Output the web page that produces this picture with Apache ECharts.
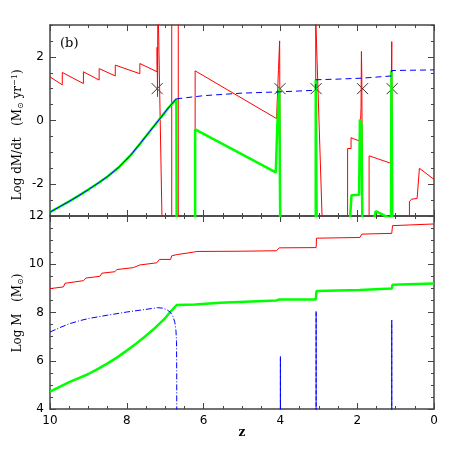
<!DOCTYPE html>
<html>
<head>
<meta charset="utf-8">
<script src="https://cdn.jsdelivr.net/npm/echarts@6/dist/echarts.min.js"></script>
<style>
  html, body { margin: 0; padding: 0; background: #fff; }
  #chart { width: 458px; height: 458px; }
</style>
</head>
<body>
<div id="chart"></div>
<script>
// ---- data: [z, value] ----
// top panel, log dM/dt
var redRate = [
    [10, 1.37], [9.68, 1.12], [9.68, 1.51], [9.13, 1.16], [9.13, 1.53],
    [8.72, 1.27], [8.72, 1.63], [8.30, 1.40], [8.30, 1.74], [7.66, 1.47],
    [7.66, 1.79], [7.21, 1.53], [7.21, 2.30], [7.20, 0.75], [7.19, 4],
    [7.07, -4], [6.83, -4], [6.83, 4], [6.66, 4], [6.66, -4],
    [6.22, -4], [6.22, 1.56], [4.10, 0.06], [4.05, 1.6], [4.02, 2.5],
    [4.00, -4], [3.08, -4], [3.08, 3.2], [2.91, -3.2], [2.25, -4],
    [2.25, -0.88], [2.16, -0.88], [2.16, -0.54], [1.93, -0.65], [1.90, 0.4],
    [1.89, 2.17], [1.88, 1.4], [1.86, -4], [1.69, -4], [1.69, -1.11],
    [1.65, -1.06], [1.13, -1.34], [1.10, 2.48], [1.08, -4], [0.64, -4],
    [0.64, -2.54], [0.58, -2.47], [0.44, -2.45], [0.38, -1.5], [0, -1.85]
];
var greenRate = [
    [10, -2.88], [9.75, -2.71], [9.5, -2.54], [9.25, -2.36], [9.0, -2.17],
    [8.75, -1.97], [8.5, -1.76], [8.2, -1.46], [7.9, -1.09], [7.65, -0.72],
    [7.4, -0.34], [7.15, 0.04], [6.9, 0.42], [6.71, 0.67], [6.70, -4],
    [6.22, -4], [6.22, -0.28], [4.12, -1.63], [4.08, -0.13], [4.03, 1.0],
    [4.00, -4], [3.08, -4], [3.08, 1.28], [3.05, -4], [2.19, -4],
    [2.19, -3.2], [2.15, -2.35], [2.10, -2.30], [1.95, -2.33], [1.93, 0.03],
    [1.89, -0.1], [1.86, -4], [1.58, -4], [1.58, -3.2], [1.52, -2.85],
    [1.47, -2.83], [1.18, -3.05], [1.12, -4], [1.11, -4], [1.11, 1.56],
    [1.08, -4]
];
var blueRateRise = [
    [10, -2.88], [9.75, -2.71], [9.5, -2.54], [9.25, -2.36], [9.0, -2.17],
    [8.75, -1.97], [8.5, -1.76], [8.2, -1.46], [7.9, -1.09], [7.65, -0.72],
    [7.4, -0.34], [7.15, 0.04], [6.9, 0.42], [6.71, 0.68]
];
var blueRateFlat = [
    [6.71, 0.68], [6.0, 0.78], [5.0, 0.86], [4.02, 0.90], [3.08, 0.95],
    [3.08, 1.28], [2.5, 1.30], [1.88, 1.33], [1.88, 1.38], [1.10, 1.40],
    [1.10, 1.57], [0, 1.59]
];
var crossZ = [7.21, 4.01, 3.07, 1.86, 1.09];
var crossLevel = 1.0;
var rateTicks = [-2, 0, 2];

// bottom panel, log M
var redMass = [
    [10, 8.99], [9.65, 9.06], [9.61, 9.21], [9.13, 9.32], [9.06, 9.43],
    [8.70, 9.50], [8.65, 9.63], [8.31, 9.69], [8.26, 9.78], [7.83, 9.86],
    [7.66, 9.97], [7.22, 10.06], [7.15, 10.20], [6.86, 10.20], [6.83, 10.35],
    [6.70, 10.40], [6.66, 10.46], [6.27, 10.50], [6.18, 10.53], [5.05, 10.54],
    [4.10, 10.56], [4.03, 10.68], [3.07, 10.69], [3.06, 11.08], [1.93, 11.11],
    [1.88, 11.25], [1.10, 11.28], [1.08, 11.60], [0.62, 11.63], [0.58, 11.65],
    [0, 11.67]
];
var greenMass = [
    [10, 4.72], [9.75, 4.92], [9.5, 5.11], [9.25, 5.28], [9.0, 5.45],
    [8.75, 5.66], [8.5, 5.89], [8.25, 6.14], [8.0, 6.42], [7.75, 6.72],
    [7.5, 7.04], [7.25, 7.38], [7.0, 7.77], [6.84, 8.07], [6.70, 8.31],
    [6.22, 8.33], [5.57, 8.40], [4.10, 8.50], [4.03, 8.54], [3.08, 8.54],
    [3.06, 8.89], [1.93, 8.93], [1.88, 8.97], [1.10, 8.99], [1.08, 9.15],
    [0, 9.20]
];
var blueMass = [
    [10, 7.19], [9.75, 7.37], [9.5, 7.53], [9.25, 7.65], [9.0, 7.75],
    [8.5, 7.89], [8.0, 8.02], [7.5, 8.13], [7.2, 8.20], [7.05, 8.18],
    [6.95, 8.11], [6.86, 8.00], [6.80, 7.84], [6.75, 7.60], [6.72, 7.25],
    [6.705, 6.8], [6.70, 5.5], [6.70, 3.0]
];
var blueSpikes = [
    [4.00, 3.0], [4.00, 6.18], [4.00, 3.0], [3.07, 3.0], [3.07, 8.05],
    [3.07, 3.0], [1.10, 3.0], [1.10, 7.68], [1.10, 3.0]
];

var frameColor = "#444";
var tickFont = "DejaVu Sans";
var nameFont = "DejaVu Serif";

function makeX(grid, pos, labels) {
    return {
        type: "value", gridIndex: grid, position: pos,
        min: 0, max: 10, interval: 2, inverse: true,
        axisLine: {onZero: false, lineStyle: {color: frameColor, width: 1.5}},
        axisTick: {inside: true, length: 6, lineStyle: {color: frameColor, width: 1}},
        minorTick: {show: true, splitNumber: 4, length: 3, lineStyle: {color: frameColor, width: 1}},
        splitLine: {show: false},
        axisLabel: {show: labels, color: "#000", fontFamily: tickFont, fontSize: 12, margin: 6}
    };
}

// top panel y: one axis for the 0.5 steps, one for the long ticks and labels
function makeRateY(pos, major) {
    var ax = {
        type: "value", gridIndex: 0, position: pos, offset: 0,
        min: -3, max: 3, interval: 0.5,
        axisLine: {show: !major, onZero: false, lineStyle: {color: frameColor, width: 1.5}},
        axisTick: {inside: true, length: 3, lineStyle: {color: frameColor, width: 1}},
        splitLine: {show: false},
        axisLabel: {show: false}
    };
    if (major) {
        ax.axisTick = {inside: true, length: 6, customValues: rateTicks, lineStyle: {color: frameColor, width: 1}};
        ax.axisLabel = {show: pos == "left", customValues: rateTicks, color: "#000",
            fontFamily: tickFont, fontSize: 12, margin: 6};
    }
    return ax;
}

function makeMassY(pos) {
    return {
        type: "value", gridIndex: 1, position: pos,
        min: 4, max: 12, interval: 2,
        axisLine: {onZero: false, lineStyle: {color: frameColor, width: 1.5}},
        axisTick: {inside: true, length: 6, lineStyle: {color: frameColor, width: 1}},
        minorTick: {show: true, splitNumber: 4, length: 3, lineStyle: {color: frameColor, width: 1}},
        splitLine: {show: false},
        axisLabel: {show: pos == "left", color: "#000", fontFamily: tickFont, fontSize: 12, margin: 6}
    };
}

function line(data, xi, yi, color, width, type) {
    return {
        type: "line", data: data, xAxisIndex: xi, yAxisIndex: yi,
        showSymbol: false, symbol: "none", clip: true, animation: false,
        lineStyle: {color: color, width: width, type: type || "solid"},
        emphasis: {disabled: true}
    };
}

var crossData = crossZ.map(function (z) { return [z, crossLevel]; });

var chart = echarts.init(document.getElementById("chart"));
chart.setOption({
    backgroundColor: "#fff",
    animation: false,
    grid: [
        {left: 50, top: 25, width: 384, height: 191},
        {left: 50, top: 216, width: 384, height: 193}
    ],
    xAxis: [makeX(0, "bottom", false), makeX(0, "top", false),
            makeX(1, "bottom", true), makeX(1, "top", false)],
    yAxis: [makeRateY("left", false), makeRateY("left", true),
            makeRateY("right", false), makeRateY("right", true),
            makeMassY("left"), makeMassY("right")],
    series: [
        line(redRate, 0, 0, "#ff0000", 1),
        line(greenRate, 0, 0, "#00ff00", 2.5),
        line(blueRateRise, 0, 0, "#0000ff", 1),
        line(blueRateFlat, 0, 0, "#0000ff", 1, [6, 4]),
        {
            type: "scatter", data: crossData, xAxisIndex: 0, yAxisIndex: 0,
            symbol: "path://M0,0L10,10M10,0L0,10", symbolSize: 11,
            itemStyle: {color: "none", borderColor: "#000", borderWidth: 1},
            animation: false, emphasis: {disabled: true}
        },
        line(redMass, 2, 4, "#ff0000", 1),
        line(greenMass, 2, 4, "#00ff00", 2.5),
        line(blueMass, 2, 4, "#0000ff", 1, [6, 2, 1, 2]),
        line(blueSpikes, 2, 4, "#0000ff", 1, [5, 1])
    ],
    graphic: [
        {type: "text", x: 60, y: 44, style: {text: "(b)", font: "13px " + nameFont, fill: "#000",
            verticalAlign: "middle"}},
        {type: "text", x: 18, y: 135, rotation: Math.PI / 2,
            style: {text: "{a|Log dM/dt   (M}{s|\u2299}{a| yr}{u|\u22121}{a|)}",
                align: "center", verticalAlign: "middle",
                rich: {
                    a: {font: "12px " + nameFont, fill: "#000"},
                    s: {font: "8px DejaVu Sans", fill: "#000", padding: [6, 0, 0, 0]},
                    u: {font: "8px " + nameFont, fill: "#000", padding: [0, 0, 6, 0]}
                }}},
        {type: "text", x: 18, y: 313, rotation: Math.PI / 2,
            style: {text: "{a|Log M   (M}{s|\u2299}{a|)}",
                align: "center", verticalAlign: "middle",
                rich: {
                    a: {font: "12px " + nameFont, fill: "#000"},
                    s: {font: "8px DejaVu Sans", fill: "#000", padding: [6, 0, 0, 0]}
                }}},
        {type: "text", x: 242, y: 433, style: {text: "z", font: "bold 12px " + nameFont, fill: "#000",
            align: "center", verticalAlign: "middle"}}
    ]
});
</script>
</body>
</html>
